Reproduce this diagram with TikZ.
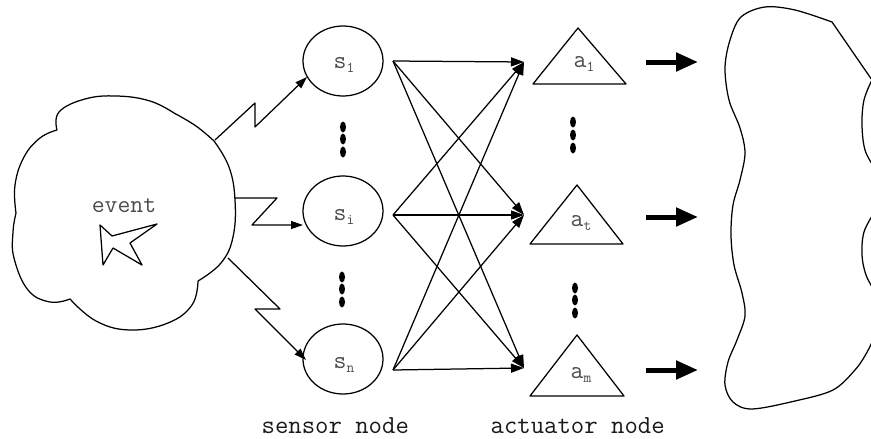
\documentclass[tikz,border=0pt]{standalone}
\usepackage{fontspec}
\usetikzlibrary{arrows.meta,shapes.geometric}
\newcommand\subx[1]{\raisebox{-4pt}{\fontsize{15}{15}\selectfont #1}}
\begin{document}
\begin{tikzpicture}[x=1pt,y=-1pt,line width=1.25pt,line join=round,
  lbl/.style={font=\fontsize{25}{25}\selectfont\ttfamily,text=black!70,inner sep=0pt},
  captxt/.style={font=\fontsize{26}{26}\selectfont\ttfamily,text=black!90,inner sep=0pt},
  sensor/.style={ellipse,draw,minimum width=80pt,minimum height=70pt,inner sep=0pt},
  arr/.style={-{Triangle[length=13pt,width=9pt]}},
  zig/.style={-{Triangle[length=12pt,width=8pt]}},
  big/.style={line width=5pt,-{Triangle[length=22pt,width=18pt]}},
  vdot/.style={ellipse,fill=black,inner sep=0pt,minimum width=6pt,minimum height=11pt}]
\useasboundingbox (0,0) rectangle (871,439);

% event cloud
\draw plot[smooth,tension=0.7] coordinates {(57,130)(59,112)(85,99)(117,96)(150,101)(174,113)}
 -- plot[smooth,tension=0.7] coordinates {(174,113)(196,126)(214,141)}
 -- plot[smooth,tension=0.7] coordinates {(214,141)(229,167)(235,200)(233,237)(221,263)(198,281)}
 -- plot[smooth,tension=0.7] coordinates {(198,281)(192,305)(168,323)(130,330)(96,321)(70,299)}
 -- plot[smooth,tension=0.7] coordinates {(70,299)(50,302)(28,290)(14,258)(13,232)(16,213)}
 -- plot[smooth,tension=0.7] coordinates {(16,213)(15,185)(24,157)(40,138)(57,130)} -- cycle;
\node[lbl,anchor=base] (ev) at (124,212) {event};
\draw (100,225) -- (112,236) -- (157,224) -- (130,243) -- (142,265) -- (113,248) -- (103,265) -- cycle;

% sensors
\node[sensor] (s1) at (343,61) {};
\node[sensor] (si) at (343,211) {};
\node[sensor] (sn) at (343,359) {};
\node[lbl,anchor=base west] (s1l) at (333,68) {s\subx{1}};
\node[lbl,anchor=base west] (sil) at (333,220) {s\subx{i}};
\node[lbl,anchor=base west] (snl) at (333,368) {s\subx{n}};

\node[vdot] (d1) at (343,127) {};
\node[vdot] (d2) at (343,139) {};
\node[vdot] (d3) at (343,152) {};
\node[vdot] (d4) at (342,277) {};
\node[vdot] (d5) at (342,289) {};
\node[vdot] (d6) at (342,302) {};

% lightning arrows
\coordinate (z1s) at (215,140); \coordinate (z1t) at (307,77);
\coordinate (z2s) at (235,198); \coordinate (z2t) at (303,225);
\coordinate (z3s) at (228,258); \coordinate (z3t) at (306,360);
\draw[zig] (z1s) -- (255,103) -- (255,127) -- (z1t);
\draw[zig] (z2s) -- (277,198) -- (252,225) -- (z2t);
\draw[zig] (z3s) -- (280,309) -- (255,309) -- (z3t);

% actuators
\draw (533,84) -- (578,28) -- (626,84) -- cycle;
\draw (530,244) -- (577,185) -- (623,244) -- cycle;
\draw (530,396) -- (577,335) -- (624,396) -- cycle;
\node[lbl,anchor=base west] (a1) at (573,67) {a\subx{1}};
\node[lbl,anchor=base west] (at) at (570,226) {a\subx{t}};
\node[lbl,anchor=base west] (am) at (570,378) {a\subx{m}};

\node[vdot] (e1) at (573,122) {};
\node[vdot] (e2) at (573,135) {};
\node[vdot] (e3) at (573,148) {};
\node[vdot] (e4) at (575,288) {};
\node[vdot] (e5) at (575,300) {};
\node[vdot] (e6) at (575,313) {};

% sensor -> actuator connectors
\coordinate (o1) at (393,61);  \coordinate (oi) at (393,215); \coordinate (on) at (393,370);
\coordinate (i1) at (524,62);  \coordinate (it) at (524,215); \coordinate (im) at (524,368);
\foreach \s in {o1,oi,on}{
  \foreach \t in {i1,it,im}{
    \draw[arr] (\s) -- (\t);
  }
}

% thick arrows
\coordinate (b1s) at (646,62);  \coordinate (b1e) at (698,62);
\coordinate (b2s) at (646,217); \coordinate (b2e) at (698,217);
\coordinate (b3s) at (646,370); \coordinate (b3e) at (698,370);
\draw[big] (b1s) -- (b1e);
\draw[big] (b2s) -- (b2e);
\draw[big] (b3s) -- (b3e);

% environment blob
\draw plot[smooth,tension=0.55] coordinates {(874,338)(866,354)(855,370)(833,390)(795,401)(752,409)(733,402)(725,385)(728,362)(737,340)(745,316)(742,293)(734,265)(731,235)(733,205)(740,180)(745,153)(740,128)(729,100)(725,68)(730,40)(741,17)(765,7)(795,10)(832,22)}
 -- (872,80)
 -- plot[smooth,tension=0.6] coordinates {(872,80)(864,100)(862,125)(865,150)(874,167)}
 -- (890,170) -- (890,212) -- (874,213)
 -- plot[smooth,tension=0.6] coordinates {(874,213)(864,232)(862,255)(866,275)(874,290)}
 -- (890,292) -- (890,336) -- cycle;

% captions
\node[captxt,anchor=base west] (c1) at (261,433) {sensor node};
\node[captxt,anchor=base west] (c2) at (490,433) {actuator node};
\end{tikzpicture}
\end{document}
